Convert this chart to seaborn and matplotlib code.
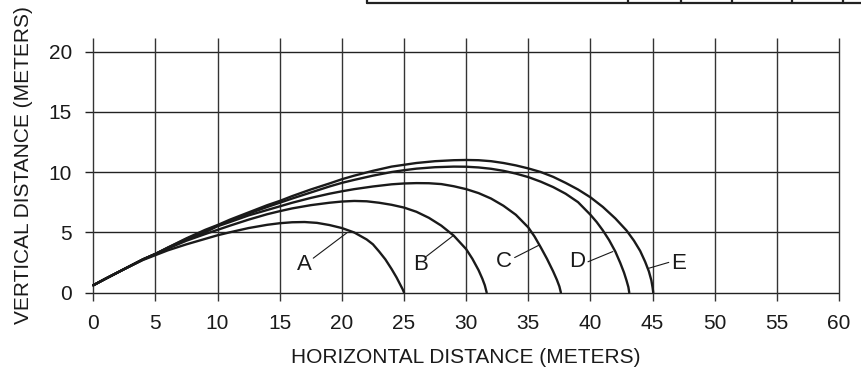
import matplotlib
matplotlib.use("Agg")
import matplotlib.pyplot as plt
from matplotlib.lines import Line2D
import seaborn as sns
import pandas as pd

# ---- data ----
curve_names = ["A", "B", "C", "D", "E"]

a_x = [0, 1, 2.5, 4, 5, 6, 7.5, 9, 10, 11, 12.5, 14, 15, 16, 17, 18, 19, 20, 21, 22, 22.5,
       23, 23.5, 24, 24.4, 24.7, 24.9, 25]
a_y = [0.6, 1.15, 1.95, 2.7, 3.1, 3.5, 4.0, 4.45, 4.75, 5.0, 5.35, 5.62, 5.75, 5.83, 5.85, 5.78,
       5.6, 5.35, 4.98, 4.4, 4.0, 3.4, 2.75, 1.95, 1.25, 0.65, 0.25, 0]

b_x = [0, 1, 2.5, 4, 5, 6, 7.5, 9, 10, 11, 12.5, 14, 15, 16, 17.5, 19, 20, 21, 22, 23, 24, 25,
       26, 27, 28, 29, 30, 30.5, 31, 31.3, 31.5, 31.65]
b_y = [0.6, 1.15, 1.95, 2.75, 3.2, 3.65, 4.3, 4.85, 5.2, 5.55, 6.05, 6.5, 6.75, 6.98, 7.25, 7.45,
       7.55, 7.6, 7.57, 7.45, 7.28, 7.05, 6.7, 6.2, 5.55, 4.72, 3.6, 2.8, 1.85, 1.15, 0.6, 0]

c_x = [0, 1, 2.5, 4, 5, 6, 7.5, 9, 10, 11, 12.5, 14, 15, 16, 17.5, 19, 20, 21, 22.5, 24, 25, 26,
       27, 28, 29, 30, 31, 32, 33, 34, 35, 35.5, 36, 36.5, 37, 37.3, 37.5, 37.62]
c_y = [0.6, 1.15, 1.95, 2.75, 3.2, 3.7, 4.4, 5.0, 5.5, 5.85, 6.4, 6.85, 7.15, 7.45, 7.85, 8.2,
       8.4, 8.58, 8.8, 8.98, 9.05, 9.08, 9.07, 9.0, 8.82, 8.58, 8.25, 7.8, 7.2, 6.45, 5.4, 4.65,
       3.75, 2.8, 1.75, 1.05, 0.5, 0]

d_x = [0, 1, 2.5, 4, 5, 6, 7.5, 9, 10, 11, 12.5, 14, 15, 16, 17.5, 19, 20, 21, 22.5, 24, 25, 26,
       27.5, 29, 30, 31, 32, 33, 34, 35, 36, 37, 38, 39, 40, 40.5, 41, 41.5, 42, 42.4, 42.7,
       42.9, 43.05, 43.12]
d_y = [0.6, 1.15, 1.95, 2.75, 3.2, 3.72, 4.45, 5.1, 5.55, 5.95, 6.55, 7.1, 7.45, 7.8, 8.3, 8.8,
       9.1, 9.35, 9.7, 10.0, 10.15, 10.28, 10.4, 10.45, 10.44, 10.38, 10.27, 10.1, 9.87, 9.58,
       9.2, 8.75, 8.2, 7.5, 6.45, 5.85, 5.15, 4.35, 3.4, 2.45, 1.65, 1.0, 0.45, 0]

e_x = [0, 1, 2.5, 4, 5, 6, 7.5, 9, 10, 11, 12.5, 14, 15, 16, 17.5, 19, 20, 21, 22.5, 24, 25, 26,
       27.5, 29, 30, 31, 32, 33, 34, 35, 36, 37, 38, 39, 40, 41, 42, 42.9, 43.5, 44, 44.4, 44.7,
       44.9, 45.0, 45.05]
e_y = [0.6, 1.15, 1.95, 2.75, 3.2, 3.73, 4.5, 5.2, 5.6, 6.05, 6.65, 7.25, 7.6, 8.0, 8.55, 9.05,
       9.4, 9.7, 10.1, 10.45, 10.6, 10.75, 10.9, 10.98, 11.0, 10.98, 10.9, 10.75, 10.55, 10.3,
       10.0, 9.6, 9.1, 8.55, 7.9, 7.1, 6.15, 5.15, 4.3, 3.45, 2.55, 1.75, 1.0, 0.4, 0]

x_ticks = [0, 5, 10, 15, 20, 25, 30, 35, 40, 45, 50, 55, 60]
y_ticks = [0, 5, 10, 15, 20]

# label text position and leader line
label_text_x = [17.0, 26.3, 33.0, 38.9, 47.1]
label_text_y = [2.3, 2.3, 2.55, 2.55, 2.42]
leader_x0 = [17.7, 26.8, 33.9, 39.8, 46.3]
leader_y0 = [2.85, 3.0, 2.9, 2.55, 2.5]
leader_x1 = [20.4, 29.0, 35.9, 41.8, 44.65]
leader_y1 = [4.95, 4.75, 3.95, 3.4, 2.0]

xlabel = "HORIZONTAL DISTANCE (METERS)"
ylabel = "VERTICAL DISTANCE (METERS)"

# ---- build long table ----
xs = [a_x, b_x, c_x, d_x, e_x]
ys = [a_y, b_y, c_y, d_y, e_y]
rows = []
for name, cx, cy in zip(curve_names, xs, ys):
    for i, (px, py) in enumerate(zip(cx, cy)):
        rows.append({"curve": name, "order": i, "x": px, "y": py})
df = pd.DataFrame(rows)

sns.set_theme(style="white")
plt.rcParams["font.family"] = ["Liberation Sans", "DejaVu Sans"]

fig = plt.figure(figsize=(8.62, 3.70), dpi=100)
ax = fig.add_axes([0.0988, 0.1873, 0.8746, 0.7092])

XMIN, XMAX = -0.65, 60.0
YMIN, YMAX = -0.68, 21.1
ax.set_xlim(XMIN, XMAX)
ax.set_ylim(YMIN, YMAX)

# grid
ax.hlines(y_ticks, XMIN, XMAX, colors="#222222", linewidth=1.0, clip_on=False, zorder=1)
ax.vlines(x_ticks, YMIN, YMAX, colors="#333333", linewidth=1.0, clip_on=False, zorder=1)

sns.lineplot(data=df, x="x", y="y", hue="curve", units="curve", estimator=None,
             sort=False, palette=["#1a1a1a"] * 5, linewidth=1.7, legend=False,
             ax=ax, zorder=3)
for ln in ax.lines:
    ln.set_solid_joinstyle("round")

for name, tx, ty, x0, y0, x1, y1 in zip(curve_names, label_text_x, label_text_y,
                                        leader_x0, leader_y0, leader_x1, leader_y1):
    ax.text(tx, ty, name, fontsize=16, ha="center", va="center", color="#1a1a1a")
    ax.plot([x0, x1], [y0, y1], color="#1a1a1a", linewidth=0.8, zorder=3)

for s in ax.spines.values():
    s.set_visible(False)
ax.set_xticks(x_ticks)
ax.set_yticks(y_ticks)
ax.set_xticklabels([str(t) for t in x_ticks])
ax.set_yticklabels([str(t) for t in y_ticks])
ax.tick_params(axis="both", length=0, labelsize=15, colors="#1a1a1a")
ax.tick_params(axis="x", pad=9.5)
ax.tick_params(axis="y", pad=9.5)

ax.set_xlabel(xlabel, fontsize=15, color="#1a1a1a")
ax.xaxis.set_label_coords(0.505, -0.181)
ax.set_ylabel(ylabel, fontsize=15, color="#1a1a1a")
ax.yaxis.label.set_va("center")
ax.yaxis.set_label_coords(-0.0818, 0.517)

# partial table border at top of the page
H = 370.0
W = 862.0
ytop = 1 - 3.0 / H
fig.add_artist(Line2D([367 / W, 1.0], [ytop, ytop], transform=fig.transFigure,
                      color="#222222", linewidth=1.6))
for vx in [367, 628, 681, 732, 792, 843]:
    fig.add_artist(Line2D([vx / W, vx / W], [ytop, 1.0], transform=fig.transFigure,
                          color="#222222", linewidth=1.6))

fig.savefig("out.png", dpi=100)
